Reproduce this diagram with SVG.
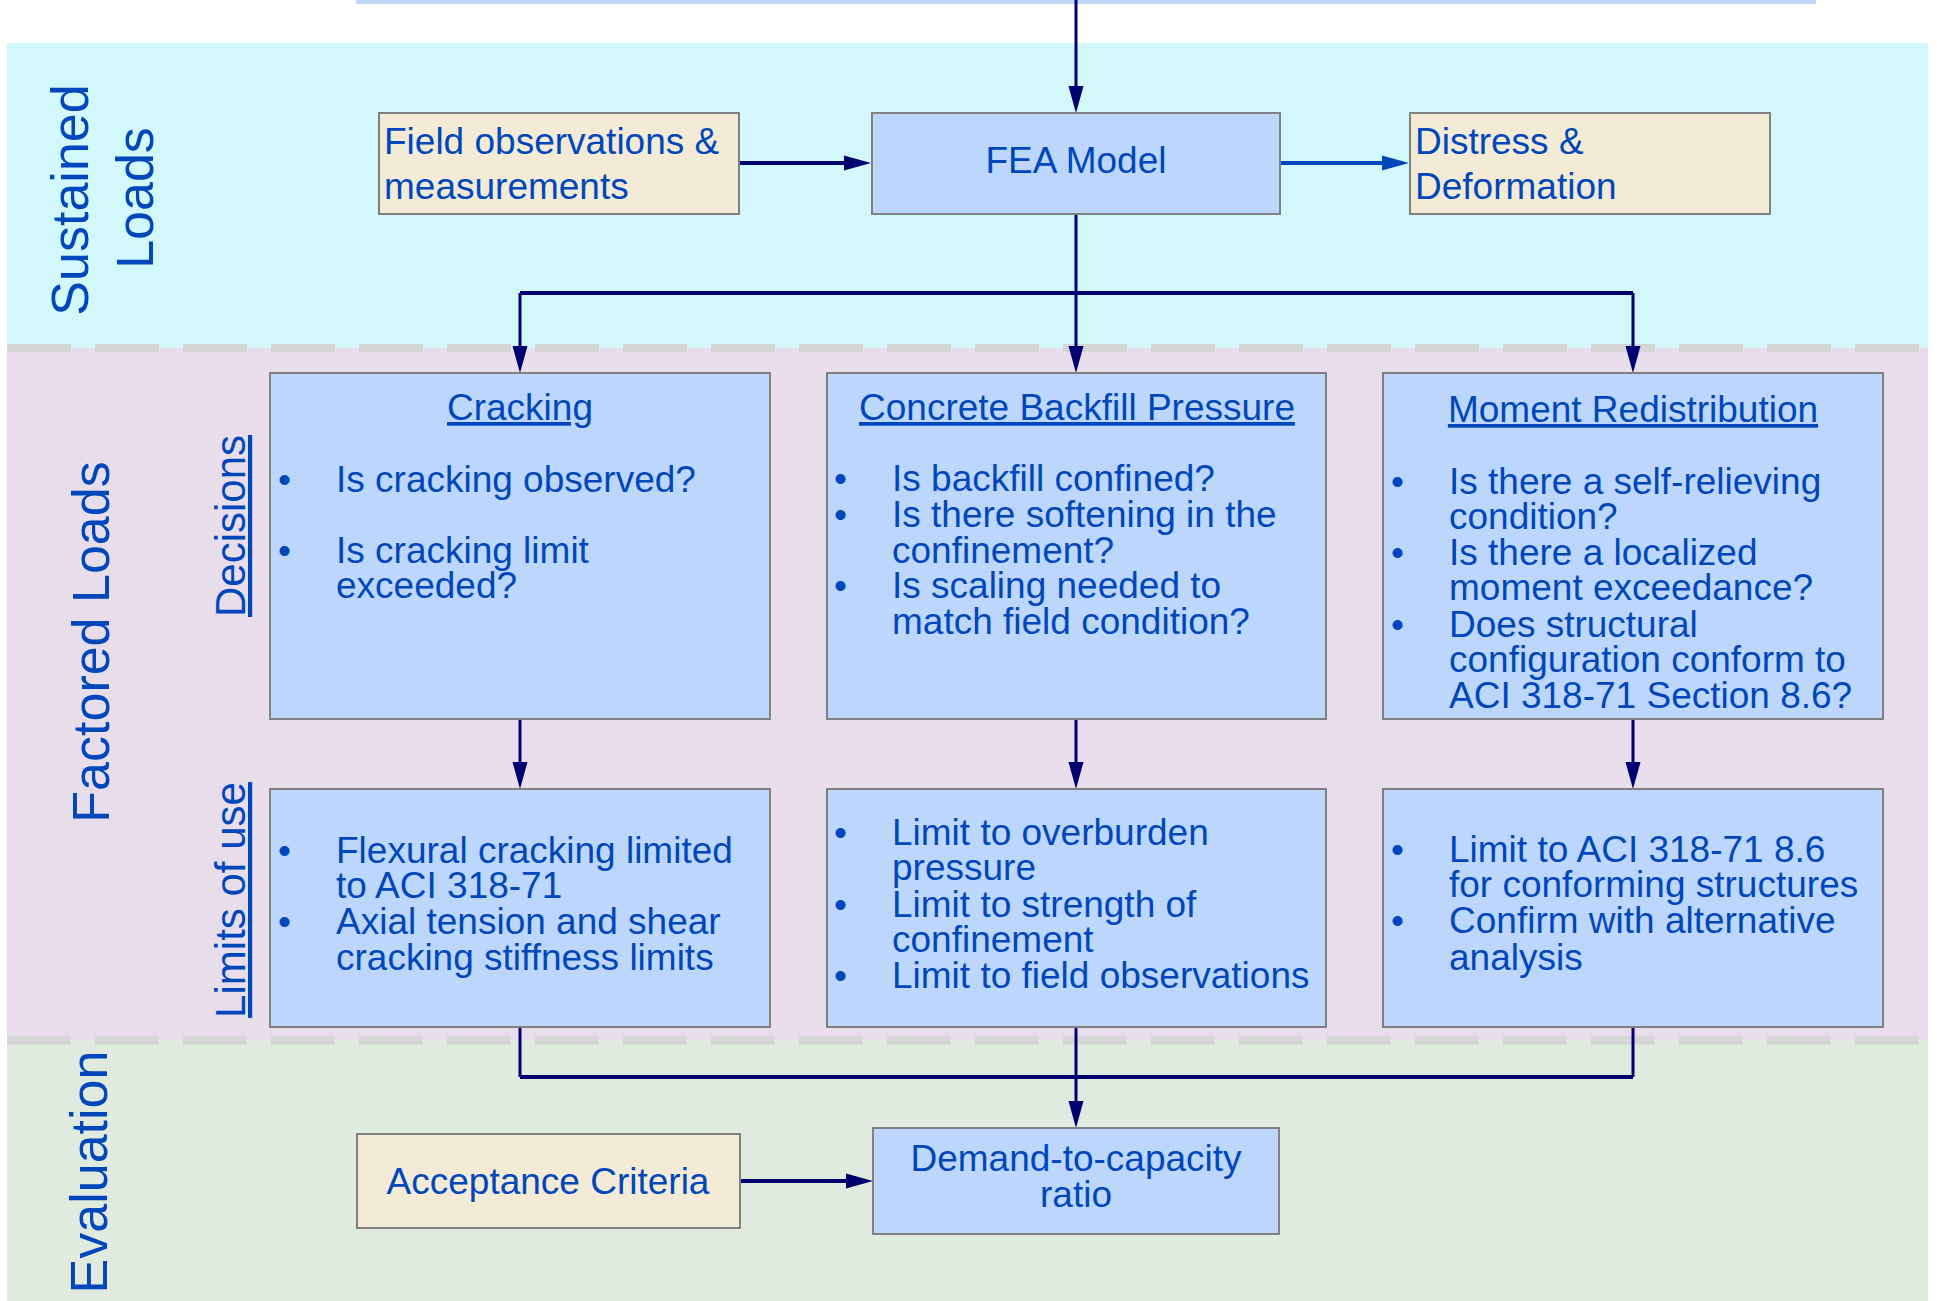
<svg xmlns="http://www.w3.org/2000/svg" width="1937" height="1301" viewBox="0 0 1937 1301">
<style>
.t{font-family:"Liberation Sans",Arial,sans-serif;font-size:37px;fill:#0047BB}
.c{text-anchor:middle}
.u{text-decoration:underline}
.lab{font-family:"Liberation Sans",Arial,sans-serif;font-size:52px;fill:#0047BB;text-anchor:middle}
.sub{font-family:"Liberation Sans",Arial,sans-serif;font-size:42px;fill:#0047BB;text-anchor:middle;text-decoration:underline}
.nb{fill:#BDD7FC;stroke:#808080;stroke-width:2}
.nt{fill:#F3EBD5;stroke:#808080;stroke-width:2}
.cv{fill:none;stroke:#000070;stroke-width:3}
.ch{fill:none;stroke:#000070;stroke-width:4}
.sep{stroke:#D6D6D6;stroke-width:8;stroke-dasharray:64 24}
</style>
<defs>
<marker id="ah" markerUnits="userSpaceOnUse" markerWidth="27" markerHeight="16" refX="1" refY="8" orient="auto" viewBox="0 0 27 16"><path d="M0,0.5 L27,8 L0,15.5 z" fill="#000070"/></marker>
<marker id="ahb" markerUnits="userSpaceOnUse" markerWidth="27" markerHeight="16" refX="1" refY="8" orient="auto" viewBox="0 0 27 16"><path d="M0,0.5 L27,8 L0,15.5 z" fill="#0047BB"/></marker>
</defs>
<rect width="1937" height="1301" fill="#FFFFFF"/>
<g id="bands">
<rect x="7" y="43" width="1921" height="305" fill="#D2F8FB"/>
<rect x="7" y="348" width="1921" height="692" fill="#E8DEEB"/>
<rect x="7" y="1040" width="1921" height="261" fill="#E0EADF"/>
<line class="sep" x1="7" y1="348" x2="1928" y2="348"/>
<line class="sep" x1="7" y1="1040.5" x2="1928" y2="1040.5"/>
<rect x="356" y="0" width="1460" height="4" fill="#BED7FB"/>
</g>
<g id="lane-labels">
<text class="lab" transform="translate(88,200) rotate(-90)">Sustained</text>
<text class="lab" transform="translate(153,198) rotate(-90)">Loads</text>
<text class="lab" transform="translate(109,642) rotate(-90)">Factored Loads</text>
<text class="lab" transform="translate(107,1172) rotate(-90)">Evaluation</text>
<text class="sub" transform="translate(245,526) rotate(-90)">Decisions</text>
<text class="sub" transform="translate(245,900) rotate(-90)">Limits of use</text>
</g>
<g id="connectors">
<path class="cv" d="M1076,0 V87" marker-end="url(#ah)"/>
<path class="ch" d="M739,163 H845" marker-end="url(#ah)"/>
<path class="ch" d="M1280,163 H1383" stroke="#0047BB" style="stroke:#0047BB" marker-end="url(#ahb)"/>
<path class="cv" d="M1076,214 V347" marker-end="url(#ah)"/>
<path class="ch" d="M520,293 H1633"/>
<path class="cv" d="M520,293 V347" marker-end="url(#ah)"/>
<path class="cv" d="M1633,293 V347" marker-end="url(#ah)"/>
<path class="cv" d="M520,719 V763" marker-end="url(#ah)"/>
<path class="cv" d="M1076,719 V763" marker-end="url(#ah)"/>
<path class="cv" d="M1633,719 V763" marker-end="url(#ah)"/>
<path class="cv" d="M520,1027 V1077"/>
<path class="cv" d="M1633,1027 V1077"/>
<path class="ch" d="M520,1077 H1633"/>
<path class="cv" d="M1076,1027 V1102" marker-end="url(#ah)"/>
<path class="ch" d="M740,1181 H847" marker-end="url(#ah)"/>
</g>
<g id="field-obs">
<rect class="nt" x="379" y="113" width="360" height="101"/>
<text class="t" x="384" y="154">Field observations &amp;</text>
<text class="t" x="384" y="199">measurements</text>
</g>
<g id="fea-model">
<rect class="nb" x="872" y="113" width="408" height="101"/>
<text class="t c" x="1076" y="173">FEA Model</text>
</g>
<g id="distress">
<rect class="nt" x="1410" y="113" width="360" height="101"/>
<text class="t" x="1415" y="154">Distress &amp;</text>
<text class="t" x="1415" y="199">Deformation</text>
</g>
<g id="cracking">
<rect class="nb" x="270" y="373" width="500" height="346"/>
<text class="t c u" x="520" y="420">Cracking</text>
<text class="t" x="278" y="492">•</text>
<text class="t" x="336" y="492">Is cracking observed?</text>
<text class="t" x="278" y="563">•</text>
<text class="t" x="336" y="563">Is cracking limit</text>
<text class="t" x="336" y="598">exceeded?</text>
</g>
<g id="backfill">
<rect class="nb" x="827" y="373" width="499" height="346"/>
<text class="t c u" x="1077" y="420">Concrete Backfill Pressure</text>
<text class="t" x="834" y="491">•</text>
<text class="t" x="892" y="491">Is backfill confined?</text>
<text class="t" x="834" y="527">•</text>
<text class="t" x="892" y="527">Is there softening in the</text>
<text class="t" x="892" y="563">confinement?</text>
<text class="t" x="834" y="598">•</text>
<text class="t" x="892" y="598">Is scaling needed to</text>
<text class="t" x="892" y="634">match field condition?</text>
</g>
<g id="moment">
<rect class="nb" x="1383" y="373" width="500" height="346"/>
<text class="t c u" x="1633" y="422">Moment Redistribution</text>
<text class="t" x="1391" y="494">•</text>
<text class="t" x="1449" y="494">Is there a self-relieving</text>
<text class="t" x="1449" y="529">condition?</text>
<text class="t" x="1391" y="565">•</text>
<text class="t" x="1449" y="565">Is there a localized</text>
<text class="t" x="1449" y="600">moment exceedance?</text>
<text class="t" x="1391" y="637">•</text>
<text class="t" x="1449" y="637">Does structural</text>
<text class="t" x="1449" y="672">configuration conform to</text>
<text class="t" x="1449" y="708">ACI 318-71 Section 8.6?</text>
</g>
<g id="cracking-limits">
<rect class="nb" x="270" y="789" width="500" height="238"/>
<text class="t" x="278" y="863">•</text>
<text class="t" x="336" y="863">Flexural cracking limited</text>
<text class="t" x="336" y="898">to ACI 318-71</text>
<text class="t" x="278" y="934">•</text>
<text class="t" x="336" y="934">Axial tension and shear</text>
<text class="t" x="336" y="970">cracking stiffness limits</text>
</g>
<g id="backfill-limits">
<rect class="nb" x="827" y="789" width="499" height="238"/>
<text class="t" x="834" y="845">•</text>
<text class="t" x="892" y="845">Limit to overburden</text>
<text class="t" x="892" y="880">pressure</text>
<text class="t" x="834" y="917">•</text>
<text class="t" x="892" y="917">Limit to strength of</text>
<text class="t" x="892" y="952">confinement</text>
<text class="t" x="834" y="988">•</text>
<text class="t" x="892" y="988">Limit to field observations</text>
</g>
<g id="moment-limits">
<rect class="nb" x="1383" y="789" width="500" height="238"/>
<text class="t" x="1391" y="862">•</text>
<text class="t" x="1449" y="862">Limit to ACI 318-71 8.6</text>
<text class="t" x="1449" y="897">for conforming structures</text>
<text class="t" x="1391" y="933">•</text>
<text class="t" x="1449" y="933">Confirm with alternative</text>
<text class="t" x="1449" y="970">analysis</text>
</g>
<g id="acceptance">
<rect class="nt" x="357" y="1134" width="383" height="94"/>
<text class="t c" x="548" y="1194">Acceptance Criteria</text>
</g>
<g id="dc-ratio">
<rect class="nb" x="873" y="1128" width="406" height="106"/>
<text class="t c" x="1076" y="1171">Demand-to-capacity</text>
<text class="t c" x="1076" y="1207">ratio</text>
</g>
</svg>
